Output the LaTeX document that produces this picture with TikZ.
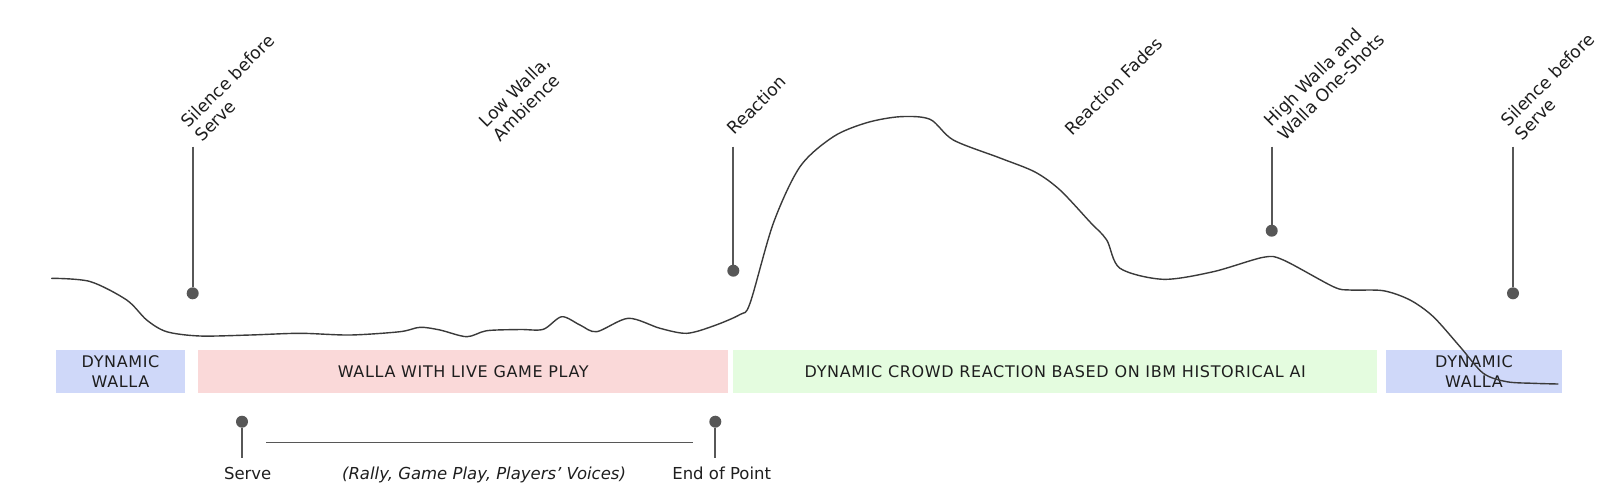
\documentclass[tikz,border=0pt]{standalone}
\usepackage{fontspec}
\setmainfont{DejaVu Sans}
\newfontfamily\bandfont[LetterSpace=4]{DejaVu Sans}
\definecolor{txt}{HTML}{1E1E1E}
\definecolor{pin}{HTML}{575757}
\definecolor{curve}{HTML}{3A3A3A}
\definecolor{bandblue}{HTML}{CFD8F9}
\definecolor{bandred}{HTML}{FAD9D9}
\definecolor{bandgreen}{HTML}{E4FCDF}
\begin{document}
\begin{tikzpicture}[x=1pt,y=-1pt,
  lbl/.style={font=\fontsize{17.2}{19.5}\selectfont, text=txt, inner sep=0pt, rotate=45, anchor=base west, align=left},
  band/.style={inner sep=0pt, minimum height=43pt, font=\bandfont\fontsize{16}{20}\selectfont, text=txt, align=center},
  pinline/.style={draw=pin, line width=1.8pt},
  pindot/.style={circle, fill=pin, inner sep=0pt, minimum size=12pt},
  wave/.style={draw=curve, line width=1.4pt, line join=round, line cap=round},
  bottomlbl/.style={font=\fontsize{16.5}{19}\selectfont, text=txt, inner sep=0pt, anchor=base}
]
\useasboundingbox (0,0) rectangle (1600,491);

% bands
\node[band, fill=bandblue, minimum width=129pt] (b1) at (120.5,371.5) {DYNAMIC\\WALLA};
\node[band, fill=bandred, minimum width=530pt] (b2) at (463.3,371.5) {WALLA WITH LIVE GAME PLAY};
\node[band, fill=bandgreen, minimum width=644pt] (b3) at (1055.3,371.5) {DYNAMIC CROWD REACTION BASED ON IBM HISTORICAL AI};
\node[band, fill=bandblue, minimum width=176pt] (b4) at (1474,371.5) {DYNAMIC\\WALLA};

% curve
\draw[wave] plot[smooth, tension=0.5] coordinates {
 (51.7,278.3) (90,281.5) (126.7,300) (146.7,320) (166.7,331.7) (200,336)
 (250,335) (300,333.3) (350,335) (400,331.7) (420,327.3) (440,330) (466.7,336.7)
 (486.7,330.7) (520,329.5) (543.3,329.3) (561.7,316.7) (580,325) (596.7,331.7)
 (628.3,318.3) (660,328.3) (686.7,333.3) (713.3,326) (740,314.5) (750,303.3)
 (773.3,223.3) (800,166.7) (833.3,136.7) (866.7,122.7) (900,116.7) (930,119.3)
 (953.3,140) (1000,158) (1035,172) (1060,190) (1090,222) (1106.7,240) (1120,268.3)
 (1163.3,279.3) (1213.3,271.7) (1263.3,257.3) (1283.3,260) (1333.3,286.7)
 (1350,290) (1383.3,290.7) (1410,300) (1433.3,316.7) (1460,346.7) (1483.3,373.3)
 (1506.7,381.7) (1533.3,383.3) (1558,384)};

% top pins
\node[pindot] (d1) at (192.7,293.3) {};
\coordinate (t1) at (192.7,146.7);
\draw[pinline] (t1) -- (d1);
\node[pindot] (d2) at (733.3,270.7) {};
\coordinate (t2) at (733.3,146.7);
\draw[pinline] (t2) -- (d2);
\node[pindot] (d3) at (1271.7,230.7) {};
\coordinate (t3) at (1271.7,146.7);
\draw[pinline] (t3) -- (d3);
\node[pindot] (d4) at (1513,293.3) {};
\coordinate (t4) at (1513,146.7);
\draw[pinline] (t4) -- (d4);

% rotated labels
\node[lbl] (l1) at (202.4,142.8) {Silence before\\Serve};
\node[lbl] (l2) at (500.4,142.3) {Low Walla,\\Ambience};
\node[lbl] (l3) at (734.5,136) {Reaction};
\node[lbl] (l4) at (1072,136.5) {Reaction Fades};
\node[lbl] (l5) at (1285.4,141.3) {High Walla and\\Walla One-Shots};
\node[lbl] (l6) at (1522.4,141.3) {Silence before\\Serve};

% bottom pins
\node[pindot] (sd) at (242,421.7) {};
\coordinate (sb) at (242,458.3);
\draw[pinline] (sd) -- (sb);
\node[pindot] (ed) at (715.3,421.7) {};
\coordinate (eb) at (715.3,458.3);
\draw[pinline] (ed) -- (eb);
\coordinate (h1) at (266,442.3);
\coordinate (h2) at (692.7,442.3);
\draw[pinline, line width=1.6pt] (h1) -- (h2);

\node[bottomlbl] (sl) at (247.7,479) {Serve};
\node[bottomlbl] (el) at (721.7,479) {End of Point};
\node[bottomlbl, font=\fontsize{16.5}{19}\selectfont\itshape] (rl) at (484,479) {(Rally, Game Play, Players’ Voices)};
\end{tikzpicture}
\end{document}
